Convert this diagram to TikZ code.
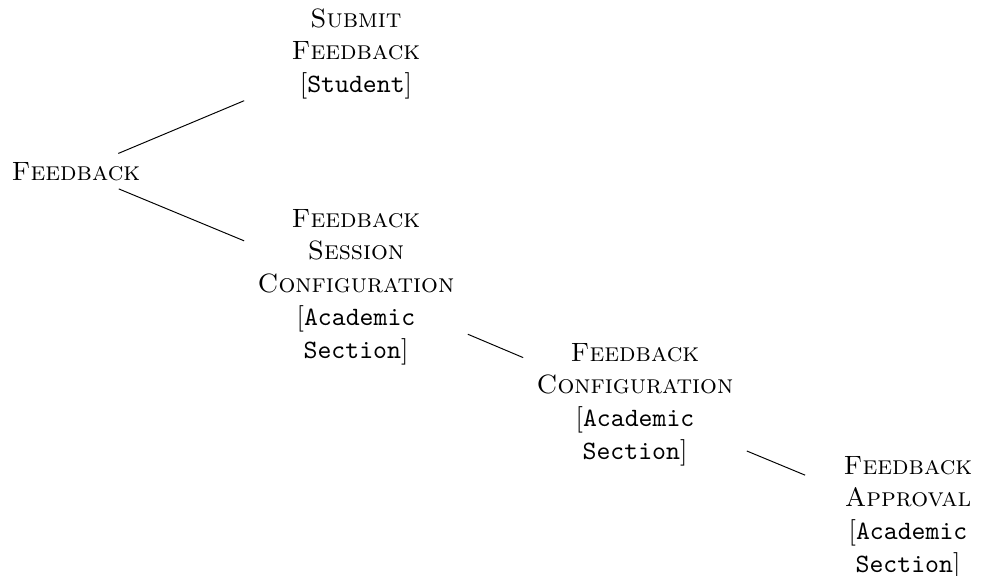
\documentclass[tikz,border=0pt]{standalone}
\tikzset{
  every node/.style={font=\fontsize{10.95pt}{13.6pt}\selectfont, inner sep=0.3333em},
  leaf/.style={text width=3.0cm, align=center, anchor=base},
  lastleaf/.style={leaf, text width=2.74cm},
  rootnode/.style={anchor=base},
  branch/.style={draw=black, line width=0.4pt}
}
\newcommand{\actor}[1]{{[}\texttt{#1}{]}}
\newcommand{\actortwo}[2]{{[}\texttt{#1}\\\texttt{#2}{]}}
\begin{document}
\begin{tikzpicture}[x=0.4132pt, y=-0.4132pt]
  \useasboundingbox (0,0) rectangle (982,576);
  % tree nodes, placed at the baseline of their first line
  \node[rootnode] (fb) at (76,180) {\textsc{Feedback}};
  \node[leaf] (submit) at (356,27) {\textsc{Submit}\\\textsc{Feedback}\\\actor{Student}};
  \node[leaf] (session) at (356,227) {\textsc{Feedback}\\\textsc{Session}\\\textsc{Configuration}\\\actortwo{Academic}{Section}};
  \node[leaf] (config) at (635,361) {\textsc{Feedback}\\\textsc{Configuration}\\\actortwo{Academic}{Section}};
  \node[lastleaf] (approval) at (908,474) {\textsc{Feedback}\\\textsc{Approval}\\\actortwo{Academic}{Section}};
  % branches
  \draw[branch] (fb) -- (submit);
  \draw[branch] (fb) -- (session);
  \draw[branch] (session) -- (config);
  \draw[branch] (config) -- (approval);
\end{tikzpicture}
\end{document}
